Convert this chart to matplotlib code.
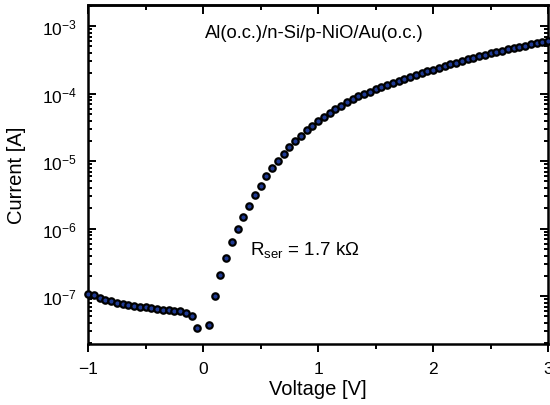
import matplotlib
matplotlib.use("Agg")
import matplotlib.pyplot as plt
from matplotlib.ticker import LogLocator, MultipleLocator, NullFormatter

plt.rcParams['font.family'] = ['Liberation Sans', 'DejaVu Sans']
plt.rcParams['mathtext.fontset'] = 'custom'
plt.rcParams['mathtext.rm'] = 'Liberation Sans'
plt.rcParams['mathtext.it'] = 'Liberation Sans:italic'
plt.rcParams['mathtext.bf'] = 'Liberation Sans:bold'

voltage = [-1.00, -0.95, -0.90, -0.85, -0.80, -0.75, -0.70, -0.65, -0.60, -0.55,
           -0.50, -0.45, -0.40, -0.35, -0.30, -0.25, -0.20, -0.15, -0.10, -0.05,
           0.05, 0.10, 0.15, 0.20, 0.25, 0.30, 0.35, 0.40, 0.45, 0.50,
           0.55, 0.60, 0.65, 0.70, 0.75, 0.80, 0.85, 0.90, 0.95, 1.00,
           1.05, 1.10, 1.15, 1.20, 1.25, 1.30, 1.35, 1.40, 1.45, 1.50,
           1.55, 1.60, 1.65, 1.70, 1.75, 1.80, 1.85, 1.90, 1.95, 2.00,
           2.05, 2.10, 2.15, 2.20, 2.25, 2.30, 2.35, 2.40, 2.45, 2.50,
           2.55, 2.60, 2.65, 2.70, 2.75, 2.80, 2.85, 2.90, 2.95, 3.00]

current = [1.06e-7, 1.03e-7, 9.5e-8, 8.9e-8, 8.5e-8, 8.0e-8, 7.7e-8, 7.4e-8, 7.2e-8, 7.0e-8,
           6.8e-8, 6.6e-8, 6.5e-8, 6.3e-8, 6.2e-8, 6.0e-8, 5.95e-8, 5.6e-8, 5.1e-8, 3.4e-8,
           3.8e-8, 9.9e-8, 2.03e-7, 3.67e-7, 6.25e-7, 9.9e-7, 1.5e-6, 2.2e-6, 3.16e-6, 4.35e-6,
           5.97e-6, 7.85e-6, 1.02e-5, 1.29e-5, 1.60e-5, 1.97e-5, 2.39e-5, 2.86e-5, 3.36e-5, 3.94e-5,
           4.56e-5, 5.22e-5, 5.92e-5, 6.62e-5, 7.43e-5, 8.24e-5, 9.1e-5, 9.9e-5, 1.074e-4, 1.159e-4,
           1.247e-4, 1.337e-4, 1.429e-4, 1.531e-4, 1.637e-4, 1.750e-4, 1.875e-4, 2.004e-4, 2.138e-4, 2.275e-4,
           2.415e-4, 2.564e-4, 2.723e-4, 2.884e-4, 3.055e-4, 3.221e-4, 3.396e-4, 3.573e-4, 3.767e-4, 3.963e-4,
           4.159e-4, 4.345e-4, 4.529e-4, 4.721e-4, 4.920e-4, 5.129e-4, 5.358e-4, 5.598e-4, 5.848e-4, 6.095e-4]

title_text = "Al(o.c.)/n-Si/p-NiO/Au(o.c.)"
rser_text = r"R$_{\mathrm{ser}}$ = 1.7 k$\Omega$"
x_ticks = [-1, 0, 1, 2, 3]
x_ticklabels = ["\u22121", "0", "1", "2", "3"]

fig = plt.figure(figsize=(5.5, 4.06), dpi=100)
ax = fig.add_axes([0.16, 0.150, 0.8364, 0.835])

ax.semilogy(voltage, current, linestyle='none', marker='o', markersize=4.6,
            markerfacecolor='#1f3a93', markeredgecolor='black', markeredgewidth=1.6,
            clip_on=False, zorder=3)

ax.set_xlim(-1, 3)
ax.set_ylim(1.95e-8, 2.05e-3)
ax.set_xticks(x_ticks)
ax.set_xticklabels(x_ticklabels)
ax.xaxis.set_minor_locator(MultipleLocator(0.5))
ax.yaxis.set_major_locator(LogLocator(base=10, numticks=20))
ax.yaxis.set_minor_locator(LogLocator(base=10, subs=range(2, 10), numticks=20))
ax.yaxis.set_minor_formatter(NullFormatter())

# bottom ticks outward, left/right inward
ax.tick_params(axis='x', which='both', direction='out', top=False, width=1.4,
               labelsize=12.5, pad=6)
ax.tick_params(axis='x', which='major', length=6)
ax.tick_params(axis='x', which='minor', length=3.5)
ax.tick_params(axis='y', which='both', direction='in', right=True, width=1.4,
               labelsize=12.5, pad=8)
ax.tick_params(axis='y', which='major', length=5.5)
ax.tick_params(axis='y', which='minor', length=3)

# top ticks inward
top = ax.secondary_xaxis('top')
top.set_xticks(x_ticks)
top.xaxis.set_minor_locator(MultipleLocator(0.5))
top.tick_params(which='both', direction='in', width=1.4, labeltop=False)
top.tick_params(which='major', length=6.5)
top.tick_params(which='minor', length=3.5)
top.spines['top'].set_linewidth(1.8)

for s in ax.spines.values():
    s.set_linewidth(1.8)

ax.set_xlabel("Voltage [V]", fontsize=14.5)
ax.xaxis.set_label_coords(0.5, -0.103)
ax.set_ylabel("Current [A]", fontsize=14.5)
ax.yaxis.set_label_coords(-0.135, 0.5)

ax.text(0.491, 0.906, title_text, transform=ax.transAxes, ha='center', va='baseline',
        fontsize=13.2)
ax.text(0.352, 0.265, rser_text, transform=ax.transAxes, ha='left', va='baseline',
        fontsize=13.5)

fig.savefig("out.png", dpi=100)
